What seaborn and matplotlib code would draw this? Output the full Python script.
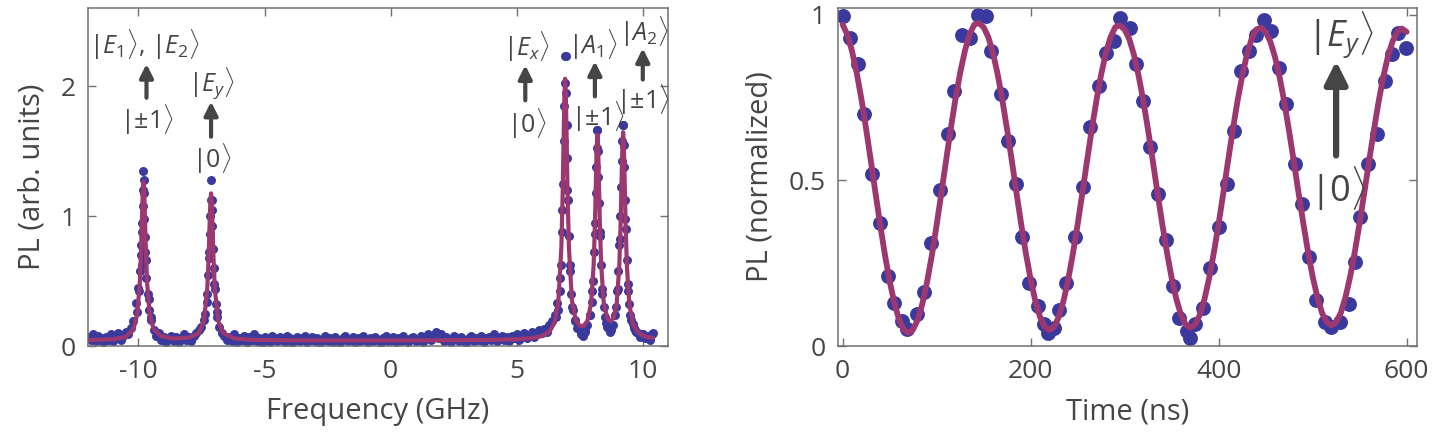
import matplotlib
matplotlib.use('Agg')
import matplotlib.pyplot as plt
import numpy as np
import pandas as pd
import seaborn as sns

# ---------------- left panel: PL excitation spectrum ----------------
scan_start_ghz = -12.0
scan_step_ghz = 0.1
scan_pl = [
    0.07, 0.05, 0.09, 0.04, 0.08, 0.06, 0.03, 0.07, 0.05, 0.09,
    0.04, 0.06, 0.10, 0.05, 0.08, 0.11, 0.09, 0.14,
    0.19, 0.33, 0.45, 0.78, 1.20, 0.66, 0.36, 0.22, 0.12, 0.08,
    0.10, 0.05, 0.07, 0.03, 0.06, 0.08, 0.04, 0.07, 0.03, 0.06,
    0.09, 0.05, 0.07, 0.04, 0.08, 0.10, 0.12, 0.15, 0.20, 0.34,
    0.72, 1.12, 0.48, 0.26, 0.15, 0.10, 0.08, 0.05,
    0.07, 0.04, 0.09, 0.03, 0.06, 0.05, 0.08, 0.03, 0.07, 0.05,
    0.09, 0.04, 0.06, 0.02, 0.07, 0.05, 0.03, 0.08, 0.06, 0.04,
    0.07, 0.05, 0.03, 0.08, 0.06, 0.02, 0.05, 0.07, 0.04, 0.06,
    0.08, 0.03, 0.05, 0.07, 0.04, 0.06, 0.02, 0.05, 0.08, 0.04,
    0.06, 0.03, 0.07, 0.05, 0.02, 0.06, 0.08, 0.04, 0.05, 0.07,
    0.03, 0.06, 0.04, 0.08, 0.05, 0.03, 0.06, 0.04, 0.07, 0.05,
    0.02, 0.06, 0.08, 0.04, 0.05, 0.07, 0.03, 0.06, 0.04, 0.08,
    0.05, 0.03, 0.06, 0.07, 0.04, 0.05, 0.08, 0.03, 0.06, 0.09,
    0.05, 0.07, 0.11, 0.06, 0.09, 0.04, 0.07, 0.05, 0.03, 0.08,
    0.06, 0.04, 0.07, 0.05, 0.02, 0.06, 0.08, 0.04, 0.06, 0.05,
    0.08, 0.03, 0.06, 0.07, 0.05, 0.09, 0.04, 0.06, 0.08, 0.05,
    0.07, 0.04, 0.08, 0.06, 0.09, 0.05, 0.07, 0.10, 0.06, 0.08,
    0.11, 0.07, 0.10, 0.12,
    0.10, 0.13, 0.11, 0.16, 0.19, 0.24, 0.33, 0.52, 1.05, 2.23,
    1.20, 0.62, 0.30, 0.19, 0.14, 0.12, 0.10, 0.12, 0.16, 0.24,
    0.42, 0.86, 1.66, 0.88, 0.40, 0.22, 0.15, 0.11, 0.16, 0.24,
    0.44, 0.82, 1.70, 0.98, 0.42, 0.24, 0.17, 0.12, 0.10, 0.07,
    0.09, 0.06, 0.08, 0.05, 0.10,
]

# extra points sampled on the flanks of the five lines
flank_freq = [
    -10.05, -9.97, -9.93, -9.90, -9.87, -9.85, -9.84, -9.82, -9.80, -9.79,
    -9.78, -9.76, -9.74, -9.72, -9.68, -9.64, -9.58, -9.52,
    -7.35, -7.28, -7.24, -7.20, -7.17, -7.15, -7.13, -7.12, -7.10, -7.08,
    -7.05, -7.02, -6.98, -6.94, -6.88,
    6.55, 6.62, 6.70, 6.75, 6.79, 6.83, 6.86, 6.88, 6.90, 6.94,
    6.96, 6.98, 7.00, 7.03, 7.06, 7.10, 7.15, 7.22, 7.30, 7.45,
    7.55, 7.62, 7.70,
    7.90, 7.98, 8.03, 8.07, 8.10, 8.13, 8.15, 8.17, 8.19, 8.22,
    8.24, 8.26, 8.29, 8.33, 8.38, 8.45, 8.55, 8.65, 8.72, 8.78,
    8.92, 8.98, 9.03, 9.07, 9.10, 9.13, 9.16, 9.19, 9.21, 9.24,
    9.26, 9.29, 9.32, 9.36, 9.40, 9.46, 9.55, 9.65, 9.75, 9.90,
    10.10, 10.30, 10.35,
]
flank_pl = [
    0.26, 0.42, 0.58, 0.70, 0.88, 0.62, 0.95, 1.08, 1.35, 1.28,
    1.18, 0.98, 0.84, 0.72, 0.52, 0.40, 0.28, 0.20,
    0.25, 0.40, 0.55, 0.68, 0.86, 1.00, 1.12, 1.28, 1.05, 0.92,
    0.75, 0.60, 0.44, 0.32, 0.22,
    0.22, 0.28, 0.42, 0.62, 0.88, 1.25, 1.58, 1.85, 2.02, 2.23,
    1.95, 1.70, 1.45, 1.12, 0.85, 0.58, 0.40, 0.28, 0.20, 0.14,
    0.09, 0.08, 0.11,
    0.24, 0.34, 0.50, 0.72, 0.95, 1.18, 1.38, 1.52, 1.66, 1.50,
    1.30, 1.10, 0.85, 0.62, 0.44, 0.30, 0.18, 0.13, 0.12, 0.16,
    0.30, 0.42, 0.58, 0.78, 1.00, 1.22, 1.42, 1.58, 1.70, 1.55,
    1.38, 1.12, 0.90, 0.66, 0.48, 0.32, 0.20, 0.14, 0.11, 0.09,
    0.07, 0.06, 0.09,
]

# Lorentzian fit
fit_freq = [
    -12.0, -11.0, -10.5, -10.2, -10.05, -9.95, -9.9, -9.86, -9.83, -9.8,
    -9.77, -9.74, -9.7, -9.65, -9.55, -9.4, -9.1, -8.6, -8.0, -7.6,
    -7.4, -7.27, -7.22, -7.18, -7.15, -7.12, -7.09, -7.06, -7.02, -6.97,
    -6.84, -6.64, -6.2, -5.5, -4.0, -2.0, 0.0, 2.0, 4.0, 5.0,
    5.6, 6.0, 6.3, 6.5, 6.65, 6.77, 6.82, 6.86, 6.89, 6.92,
    6.95, 6.98, 7.02, 7.07, 7.19, 7.34, 7.5, 7.65, 7.8, 7.95,
    8.05, 8.1, 8.14, 8.17, 8.2, 8.23, 8.26, 8.3, 8.35, 8.45,
    8.6, 8.72, 8.85, 8.97, 9.07, 9.12, 9.16, 9.19, 9.22, 9.25,
    9.28, 9.32, 9.37, 9.47, 9.62, 9.8, 10.0, 10.2, 10.4,
]
fit_pl = [
    0.045, 0.052, 0.071, 0.128, 0.24, 0.469, 0.711, 0.98, 1.178, 1.264,
    1.178, 0.98, 0.711, 0.469, 0.242, 0.131, 0.075, 0.058, 0.064, 0.10,
    0.195, 0.44, 0.663, 0.915, 1.096, 1.174, 1.096, 0.915, 0.663, 0.44,
    0.195, 0.10, 0.058, 0.047, 0.044, 0.043, 0.043, 0.044, 0.047, 0.052,
    0.060, 0.076, 0.110, 0.179, 0.338, 0.754, 1.151, 1.597, 1.917, 2.056,
    1.919, 1.60, 1.154, 0.76, 0.35, 0.20, 0.155, 0.154, 0.191, 0.327,
    0.618, 0.923, 1.269, 1.518, 1.625, 1.519, 1.272, 0.926, 0.622, 0.335,
    0.208, 0.189, 0.22, 0.335, 0.625, 0.936, 1.287, 1.539, 1.645, 1.535,
    1.28, 0.927, 0.613, 0.314, 0.166, 0.108, 0.082, 0.069, 0.062,
]

# ---------------- right panel: Rabi oscillation ----------------
rabi_time = [
    0, 8, 16, 23, 31, 40, 48, 55, 63, 69,
    79, 87, 94, 104, 112, 119, 127, 136, 144, 152,
    158, 168, 176, 184, 191, 198, 208, 214, 219, 225,
    230, 238, 247, 256, 263, 273, 280, 289, 295, 306,
    312, 320, 327, 336, 344, 351, 358, 366, 370, 375,
    383, 391, 400, 409, 416, 424, 432, 440, 448, 456,
    464, 472, 481, 489, 496, 504, 513, 520, 529, 539,
    545, 550, 559, 568, 577, 584, 591, 599,
]
rabi_pl = [
    0.997, 0.93, 0.85, 0.70, 0.52, 0.37, 0.21, 0.13, 0.076, 0.05,
    0.096, 0.164, 0.31, 0.47, 0.64, 0.77, 0.94, 0.93, 1.0, 0.997,
    0.89, 0.76, 0.62, 0.49, 0.33, 0.19, 0.12, 0.065, 0.04, 0.055,
    0.11, 0.19, 0.33, 0.48, 0.66, 0.785, 0.884, 0.92, 0.99, 0.96,
    0.85, 0.74, 0.60, 0.46, 0.32, 0.18, 0.086, 0.045, 0.023, 0.067,
    0.116, 0.235, 0.36, 0.49, 0.65, 0.83, 0.89, 0.94, 0.985, 0.95,
    0.84, 0.73, 0.55, 0.43, 0.27, 0.14, 0.073, 0.058, 0.073, 0.128,
    0.255, 0.39, 0.55, 0.64, 0.80, 0.88, 0.945, 0.90,
]

rabi_fit_step_ns = 5
rabi_fit_pl = [
    0.970, 0.940, 0.890, 0.824, 0.745, 0.655, 0.559, 0.461, 0.365, 0.275,
    0.196, 0.130, 0.080, 0.050, 0.040, 0.050, 0.080, 0.130, 0.196, 0.275,
    0.365, 0.461, 0.559, 0.655, 0.745, 0.824, 0.890, 0.940, 0.970, 0.975,
    0.962, 0.932, 0.884, 0.819, 0.741, 0.653, 0.559, 0.461, 0.367, 0.279,
    0.201, 0.136, 0.088, 0.058, 0.048, 0.058, 0.088, 0.136, 0.201, 0.279,
    0.367, 0.461, 0.559, 0.653, 0.741, 0.819, 0.884, 0.932, 0.962, 0.968,
    0.955, 0.926, 0.878, 0.814, 0.738, 0.651, 0.558, 0.462, 0.369, 0.283,
    0.206, 0.142, 0.094, 0.065, 0.055, 0.065, 0.094, 0.142, 0.206, 0.283,
    0.369, 0.462, 0.558, 0.651, 0.738, 0.814, 0.878, 0.926, 0.955, 0.961,
    0.948, 0.919, 0.872, 0.810, 0.734, 0.648, 0.557, 0.463, 0.372, 0.286,
    0.210, 0.148, 0.100, 0.072, 0.062, 0.072, 0.100, 0.148, 0.210, 0.286,
    0.372, 0.463, 0.557, 0.648, 0.734, 0.810, 0.872, 0.919, 0.948, 0.958,
    0.948,
]

DOT = '#3a3a9e'
LINE = '#9c386f'
INK = '#454545'
FRAME = '#707070'

sns.set_style('ticks')
plt.rcParams.update({
    'font.family': ['Open Sans', 'DejaVu Sans'],
    'mathtext.fontset': 'custom',
    'mathtext.rm': 'Open Sans',
    'mathtext.it': 'Open Sans:italic',
    'mathtext.bf': 'Open Sans:bold',
    'axes.unicode_minus': False,
    'xtick.direction': 'in',
    'ytick.direction': 'in',
    'xtick.top': True,
    'ytick.right': True,
    'axes.edgecolor': FRAME,
    'axes.linewidth': 1.1,
    'xtick.color': FRAME,
    'ytick.color': FRAME,
    'xtick.labelcolor': INK,
    'ytick.labelcolor': INK,
    'axes.labelcolor': INK,
    'text.color': INK,
})

scan_freq = scan_start_ghz + scan_step_ghz * np.arange(len(scan_pl))
spec = pd.DataFrame({
    'freq': np.concatenate([scan_freq, flank_freq]),
    'pl': np.concatenate([scan_pl, flank_pl]),
})
spec_fit = pd.DataFrame({'freq': fit_freq, 'pl': fit_pl})
rabi = pd.DataFrame({'t': rabi_time, 'pl': rabi_pl})
rabi_fit = pd.DataFrame({'t': rabi_fit_step_ns * np.arange(len(rabi_fit_pl)), 'pl': rabi_fit_pl})

fig = plt.figure(figsize=(14.4, 4.36), dpi=100)
ax1 = fig.add_axes([0.0611, 0.2064, 0.4028, 0.7752])
ax2 = fig.add_axes([0.5819, 0.2064, 0.4021, 0.7752])

sns.scatterplot(data=spec, x='freq', y='pl', ax=ax1, color=DOT, s=42, linewidth=0, zorder=2)
sns.lineplot(data=spec_fit, x='freq', y='pl', ax=ax1, color=LINE, linewidth=3.0, zorder=3)

sns.scatterplot(data=rabi, x='t', y='pl', ax=ax2, color=DOT, s=115, linewidth=0, zorder=2)
sns.lineplot(data=rabi_fit, x='t', y='pl', ax=ax2, color=LINE, linewidth=4.2, zorder=3)

ax1.set_xlim(-12, 11)
ax1.set_ylim(0, 2.6)
ax1.set_xticks([-10, -5, 0, 5, 10])
ax1.set_yticks([0, 1, 2])
ax1.set_xlabel('Frequency (GHz)', fontsize=21, labelpad=10)
ax1.set_ylabel('PL (arb. units)', fontsize=21, labelpad=10)

ax2.set_xlim(-5, 611)
ax2.set_ylim(0, 1.02)
ax2.set_xticks([0, 200, 400, 600])
ax2.set_yticks([0, 0.5, 1])
ax2.set_yticklabels(['0', '0.5', '1'])
ax2.set_xlabel('Time (ns)', fontsize=21, labelpad=10)
ax2.set_ylabel('PL (normalized)', fontsize=21, labelpad=10)

for ax in (ax1, ax2):
    ax.tick_params(labelsize=19, length=6, width=1.0, pad=9)
    for sp in ax.spines.values():
        sp.set_visible(True)

# transition labels on the spectrum
small_arrow = dict(arrowstyle='-|>', color=INK, lw=3.0, mutation_scale=20, shrinkA=0, shrinkB=0)
kets = [
    (-9.75, 2.32, r'$|E_1\rangle$, $|E_2\rangle$'),
    (-9.68, 1.74, r'$|{\pm}1\rangle$'),
    (-7.1, 2.02, r'$|E_y\rangle$'),
    (-7.1, 1.44, r'$|0\rangle$'),
    (5.39, 2.30, r'$|E_x\rangle$'),
    (5.39, 1.71, r'$|0\rangle$'),
    (8.03, 2.32, r'$|A_1\rangle$'),
    (8.2, 1.76, r'$|{\pm}1\rangle$'),
    (10.04, 2.42, r'$|A_2\rangle$'),
    (10.0, 1.89, r'$|{\pm}1\rangle$'),
]
for x, y, s in kets:
    ax1.text(x, y, s, fontsize=18, ha='center', va='center', color=INK)
arrows = [(-9.68, 1.91, 2.17), (-7.12, 1.61, 1.88), (5.34, 1.89, 2.16), (8.1, 1.92, 2.19), (10.0, 2.05, 2.29)]
for x, y0, y1 in arrows:
    ax1.annotate('', xy=(x, y1), xytext=(x, y0), arrowprops=small_arrow)

ax2.text(529, 0.94, r'$|E_y\rangle$', fontsize=26, ha='center', va='center', color=INK)
ax2.text(527, 0.475, r'$|0\rangle$', fontsize=26, ha='center', va='center', color=INK)
ax2.annotate('', xy=(525, 0.86), xytext=(525, 0.575),
             arrowprops=dict(arrowstyle='-|>', color=INK, lw=4.5, mutation_scale=34, shrinkA=0, shrinkB=0))

fig.savefig('out.png', dpi=100)
